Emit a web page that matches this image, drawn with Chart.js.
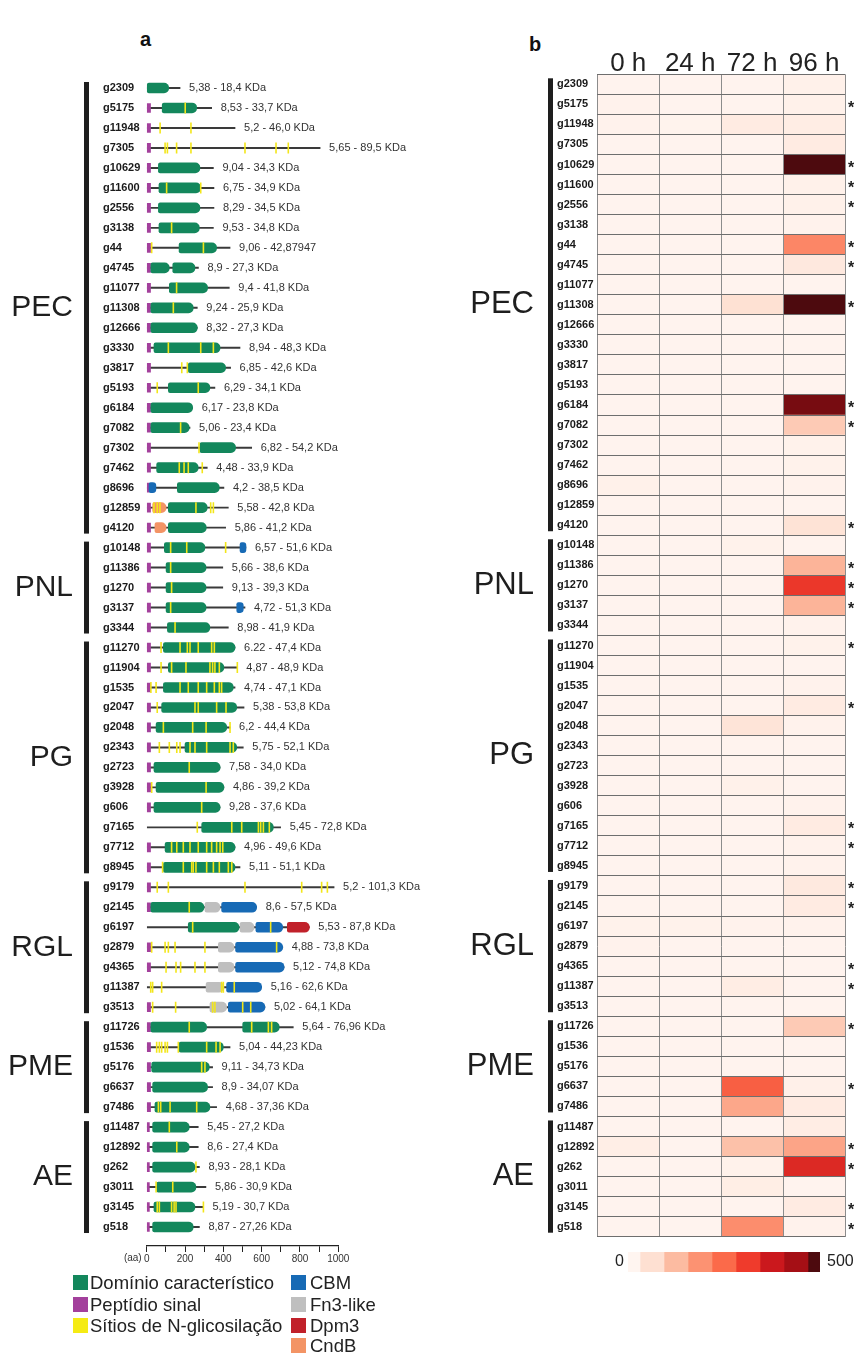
<!DOCTYPE html>
<html>
<head>
<meta charset="utf-8">
<script src="https://cdn.jsdelivr.net/npm/chart.js@4.4.0/dist/chart.umd.min.js"></script>
<style>
html, body { margin: 0; padding: 0; background: #fff; }
body { width: 854px; height: 1353px; position: relative; overflow: hidden; font-family: "Liberation Sans", Arial, sans-serif; }
canvas { position: absolute; }
#chartA { left: 0; top: 0; }
#chartB { left: 440px; top: 0; }
#chartC { left: 600px; top: 1240px; }
.tag { position: absolute; font-weight: bold; font-size: 20px; line-height: 20px; color: #111; }
.leg { position: absolute; height: 21px; display: flex; align-items: center; font-size: 18.5px; color: #222; white-space: nowrap; }
.leg i { display: inline-block; width: 15px; height: 15px; }
</style>
</head>
<body>
<div class="tag" style="left:140px;top:29px">a</div>
<div class="tag" style="left:529px;top:34px">b</div>
<canvas id="chartA" width="440" height="1300"></canvas>
<canvas id="chartB" width="414" height="1300"></canvas>
<canvas id="chartC" width="254" height="44"></canvas>
<div id="legend"></div>
<script>
// ---- dados ----
var genes = ['g2309','g5175','g11948','g7305','g10629','g11600','g2556','g3138','g44','g4745','g11077','g11308','g12666','g3330','g3817','g5193','g6184','g7082','g7302','g7462','g8696','g12859','g4120',
  'g10148','g11386','g1270','g3137','g3344',
  'g11270','g11904','g1535','g2047','g2048','g2343','g2723','g3928','g606','g7165','g7712','g8945',
  'g9179','g2145','g6197','g2879','g4365','g11387','g3513',
  'g11726','g1536','g5176','g6637','g7486',
  'g11487','g12892','g262','g3011','g3145','g518'];
var groupNames = ['PEC','PNL','PG','RGL','PME','AE'];
var groupSizes = [23, 5, 12, 7, 5, 6];

// comprimento da proteina (aa)
var proteinLength = [174,339,461,905,348,351,351,348,435,270,431,264,264,487,438,356,240,226,548,316,403,426,412,
  518,397,397,513,426,
  461,473,461,508,435,504,383,403,383,699,461,487,
  978,574,849,710,717,600,617,
  765,435,344,344,365,
  269,269,275,309,296,275];

var kdaLabels = ['5,38 - 18,4 KDa','8,53 - 33,7 KDa','5,2 - 46,0 KDa','5,65 - 89,5 KDa','9,04 - 34,3 KDa','6,75 - 34,9 KDa','8,29 - 34,5 KDa','9,53 - 34,8 KDa','9,06 - 42,87947','8,9 - 27,3 KDa','9,4 - 41,8 KDa','9,24 - 25,9 KDa','8,32 - 27,3 KDa','8,94 - 48,3 KDa','6,85 - 42,6 KDa','6,29 - 34,1 KDa','6,17 - 23,8 KDa','5,06 - 23,4 KDa','6,82 - 54,2 KDa','4,48 - 33,9 KDa','4,2 - 38,5 KDa','5,58 - 42,8 KDa','5,86 - 41,2 KDa',
  '6,57 - 51,6 KDa','5,66 - 38,6 KDa','9,13 - 39,3 KDa','4,72 - 51,3 KDa','8,98 - 41,9 KDa',
  '6.22 - 47,4 KDa','4,87 - 48,9 KDa','4,74 - 47,1 KDa','5,38 - 53,8 KDa','6,2 - 44,4 KDa','5,75 - 52,1 KDa','7,58 - 34,0 KDa','4,86 - 39,2 KDa','9,28 - 37,6 KDa','5,45 - 72,8 KDa','4,96 - 49,6 KDa','5,11 - 51,1 KDa',
  '5,2 - 101,3 KDa','8,6 - 57,5 KDa','5,53 - 87,8 KDa','4,88 - 73,8 KDa','5,12 - 74,8 KDa','5,16 - 62,6 KDa','5,02 - 64,1 KDa',
  '5,64 - 76,96 KDa','5,04 - 44,23 KDa','9,11 - 34,73 KDa','8,9 - 34,07 KDa','4,68 - 37,36 KDa',
  '5,45 - 27,2 KDa','8,6 - 27,4 KDa','8,93 - 28,1 KDa','5,86 - 30,9 KDa','5,19 - 30,7 KDa','8,87 - 27,26 KDa'];

// fim do peptidio sinal (0 = sem peptidio)
var signalPeptide = [0,20,20,20,20,20,20,20,20,20,20,20,20,20,20,20,20,20,20,20,12,20,20,
  20,20,20,20,20,
  20,20,20,20,20,20,20,20,20,0,20,20,
  20,20,0,20,20,0,20,
  20,20,20,20,20,
  14,14,14,14,14,14];

var charDomains = [['g2309',0,115],['g5175',81,261],['g10629',61,278],['g11600',64,282],['g2556',61,278],['g3138',64,275],
  ['g44',169,365],['g4745',22,118],['g4745',136,252],['g11077',118,318],['g11308',22,243],['g12666',22,264],['g3330',38,383],
  ['g3817',217,412],['g5193',113,330],['g6184',22,240],['g7082',22,222],['g7302',278,464],['g7462',52,269],['g8696',160,379],
  ['g12859',113,316],['g4120',113,311],
  ['g10148',92,304],['g11386',101,310],['g1270',101,310],['g3137',101,310],['g3344',108,330],
  ['g11270',87,461],['g11904',113,403],['g1535',87,452],['g2047',78,470],['g2048',49,418],['g2343',200,470],['g2723',38,383],
  ['g3928',49,403],['g606',38,383],['g7165',287,661],['g7712',96,461],['g8945',87,461],
  ['g2145',22,299],['g6197',217,482],
  ['g11726',22,313],['g11726',501,692],['g1536',169,400],['g5176',26,327],['g6637',31,318],['g7486',43,330],
  ['g11487',31,222],['g12892',31,222],['g262',31,252],['g3011',52,257],['g3145',38,252],['g518',31,243]];
var cbmDomains = [['g8696',12,48],['g10148',487,518],['g3137',470,504],['g2145',391,574],['g6197',570,710],
  ['g2879',464,710],['g4365',464,717],['g11387',417,600],['g3513',426,617]];
var fn3Domains = [['g2145',304,383],['g6197',487,560],['g2879',374,456],['g4365',374,456],['g11387',310,403],['g3513',330,417]];
var dpm3Domains = [['g6197',734,849]];
var cndbDomains = [['g12859',31,101],['g4120',43,101]];

// sitios de N-glicosilacao (posicao aa)
var glycoSites = [[],[201],[70,231],[96,108,156,231,513,675,739],[],[104,282],[],[130],[26,296],[],[156],[139],[],
  [113,282,348],[183,212],[55,269],[],[177],[273],[170,195,217,290],[],[38,55,69,257,334,348],[],
  [125,209,412],[125],[130],[125],[148],
  [75,174,212,226,269,339,353],[75,130,205,330,344,356,379,473],[22,49,174,217,269,313,353,379,391],
  [55,252,269,365,414],[87,240,310,435],[66,118,157,174,226,252,313,435,452],[222],[26,310],[287],
  [264,444,496,583,595,609,640],[130,157,191,226,269,313,339,365,383,397],[83,191,235,243,257,313,348,379,426,444],
  [55,113,513,809,913,943],[222],[240,647],[26,96,113,148,304,678],[101,153,177,252,304],[21,31,78,391,400,457],[31,151,344,356,501,543],
  [222,548,635,652],[52,66,78,96,108,165,313,362,383],[287,304],[],[61,73,122,261],
  [118],[157],[257],[49,136],[55,66,130,143,153,296],[]];

// heatmap
var timeLabels = ['0 h','24 h','72 h','96 h'];
var h0  = [5,8,8,5,5,5,5,5,5,5,5,5,5,5,5,5,5,5,5,5,12,5,5, 5,5,5,5,5, 5,5,5,5,5,5,5,5,5,5,5,5, 5,5,10,8,5,5,5, 5,5,5,5,5, 5,20,5,5,5,5];
var h24 = [5,5,6,5,5,5,5,5,5,5,5,5,5,5,5,5,5,5,5,5,5,5,5, 5,5,5,5,5, 5,5,5,5,5,5,5,5,5,5,5,5, 5,5,10,5,5,5,5, 5,5,5,5,5, 5,5,5,5,5,5];
var h72 = [5,5,30,5,5,5,5,5,5,5,5,60,5,5,5,5,5,5,5,5,5,5,5, 10,5,5,5,5, 5,5,5,5,50,5,5,12,5,5,5,5, 5,5,8,5,5,25,5, 5,5,5,265,155, 5,115,10,22,5,195];
var h96 = [12,12,25,30,500,12,12,8,206,38,5,500,5,5,5,5,470,100,10,10,8,5,55, 5,135,320,135,8, 10,5,8,30,8,5,5,5,8,30,8,8, 35,30,8,5,5,5,5, 100,5,5,15,30, 25,160,345,5,30,8];
var starred = ['g5175','g10629','g11600','g2556','g44','g4745','g11308','g6184','g7082','g4120','g11386','g1270','g3137',
  'g11270','g2047','g7165','g7712','g9179','g2145','g4365','g11387','g11726','g6637','g12892','g262','g3145','g518'];

var reds = ['#fff5f0','#fee0d2','#fcbba1','#fc9272','#fb6a4a','#ef3b2c','#cb181d','#a50f15','#4d0a0e'];
var colorbarMax = 500;

var legendItems = [['Domínio característico','#13875c'],['Peptídio sinal','#a3409c'],['Sítios de N-glicosilação','#f5eb14'],
  ['CBM','#176ab5'],['Fn3-like','#bfbfbf'],['Dpm3','#c1212a'],['CndB','#f39465']];

// ---- helpers ----
Chart.defaults.font.family = '"Liberation Sans", Arial, sans-serif';

function hexRgb(h) { return [parseInt(h.substr(1,2),16), parseInt(h.substr(3,2),16), parseInt(h.substr(5,2),16)]; }
function heatColor(v) {
  var t = Math.max(0, Math.min(1, v / colorbarMax)) * (reds.length - 1);
  var k = Math.min(reds.length - 2, Math.floor(t));
  var f = t - k, a = hexRgb(reds[k]), b = hexRgb(reds[k + 1]);
  return 'rgb(' + a.map(function (c, i) { return Math.round(c + (b[i] - c) * f); }).join(',') + ')';
}
function segs(list) {
  return list.map(function (s) { return { x: [s[1], s[2]], y: genes.indexOf(s[0]) }; });
}
function domainSet(label, list, color, order) {
  return { label: label, data: segs(list), backgroundColor: color, barThickness: 10, grouped: false,
    borderSkipped: false, borderRadius: { topLeft: 2, bottomLeft: 2, topRight: 6, bottomRight: 6 }, order: order };
}

// ---- painel a ----
var panelAText = {
  id: 'panelAText',
  afterDraw: function (chart) {
    var ctx = chart.ctx, x = chart.scales.x, y = chart.scales.y;
    ctx.save();
    ctx.font = '11px "Liberation Sans", Arial';
    ctx.fillStyle = '#333';
    ctx.textBaseline = 'middle';
    ctx.textAlign = 'left';
    kdaLabels.forEach(function (t, i) {
      ctx.fillText(t, x.getPixelForValue(proteinLength[i]) + 9, y.getPixelForValue(i));
    });
    var start = 0;
    groupNames.forEach(function (name, k) {
      var end = start + groupSizes[k] - 1;
      var top = y.getPixelForValue(start - 0.3), bot = y.getPixelForValue(end + 0.3);
      ctx.fillStyle = '#1e1e1e';
      ctx.fillRect(84, top, 5, bot - top);
      ctx.font = '30px "Liberation Sans", Arial';
      ctx.textAlign = 'right';
      ctx.fillText(name, 73, (top + bot) / 2);
      start = end + 1;
    });
    ctx.font = '10px "Liberation Sans", Arial';
    ctx.fillStyle = '#333';
    ctx.textAlign = 'right';
    ctx.fillText('(aa)', x.getPixelForValue(0) - 5, chart.chartArea.bottom + 12);
    ctx.restore();
  }
};

new Chart(document.getElementById('chartA'), {
  type: 'bar',
  data: {
    datasets: [
      { type: 'scatter', label: 'glico', order: 0,
        data: glycoSites.reduce(function (acc, s, i) { return acc.concat(s.map(function (p) { return { x: p, y: i }; })); }, []),
        pointStyle: 'line', rotation: 90, radius: 5.5, borderColor: '#f3e61a', borderWidth: 1.6 },
      domainSet('Domínio característico', charDomains, '#13875c', 1),
      domainSet('CBM', cbmDomains, '#176ab5', 1),
      domainSet('Fn3-like', fn3Domains, '#bfbfbf', 2),
      domainSet('Dpm3', dpm3Domains, '#c1212a', 1),
      domainSet('CndB', cndbDomains, '#f39465', 1),
      { label: 'Peptídio sinal', order: 3, grouped: false, barThickness: 9, backgroundColor: '#a3409c', borderSkipped: false,
        data: signalPeptide.map(function (e, i) { return e ? { x: [0, e], y: i } : null; }).filter(Boolean) },
      { label: 'proteina', order: 5, grouped: false, barThickness: 1.3, backgroundColor: '#3a3a3a',
        data: proteinLength.map(function (L, i) { return { x: [0, L], y: i }; }) }
    ]
  },
  options: {
    responsive: false, animation: false, indexAxis: 'y',
    layout: { padding: { left: 103, right: 101.7, top: 78, bottom: 34 } },
    plugins: { legend: { display: false }, tooltip: { enabled: false } },
    scales: {
      x: { type: 'linear', min: 0, max: 1000, position: 'bottom',
        ticks: { stepSize: 100, autoSkip: false, maxRotation: 0, padding: 1, color: '#333', font: { size: 10 },
          callback: function (v) { return v % 200 === 0 ? v : ''; } },
        grid: { drawOnChartArea: false, drawTicks: true, tickLength: 6, color: '#222', lineWidth: 1 },
        border: { display: true, color: '#222', width: 1.3 },
        afterFit: function (s) { s.height = 20; } },
      y: { type: 'linear', reverse: true, offset: false, bounds: 'data', min: -0.5, max: 57.95,
        ticks: { autoSkip: false, crossAlign: 'far', padding: 0, color: '#1a1a1a',
          font: { size: 11, weight: 'bold' },
          callback: function (v) { return genes[v]; } },
        afterBuildTicks: function (s) { s.ticks = genes.map(function (g, i) { return { value: i }; }); },
        grid: { display: false }, border: { display: false },
        afterFit: function (s) { s.width = 43.7; } }
    }
  },
  plugins: [panelAText]
});

// ---- painel b ----
var panelBText = {
  id: 'panelBText',
  afterDraw: function (chart) {
    var ctx = chart.ctx, y = chart.scales.y, area = chart.chartArea;
    ctx.save();
    ctx.textBaseline = 'middle';
    var start = 0;
    groupNames.forEach(function (name, k) {
      var end = start + groupSizes[k] - 1;
      var top = y.getPixelForValue(start - 0.3), bot = y.getPixelForValue(end + 0.3);
      ctx.fillStyle = '#1e1e1e';
      ctx.fillRect(108, top, 5, bot - top);
      ctx.font = '31px "Liberation Sans", Arial';
      ctx.textAlign = 'right';
      ctx.fillText(name, 94, (top + bot) / 2);
      start = end + 1;
    });
    ctx.font = 'bold 16px "Liberation Sans", Arial';
    ctx.textAlign = 'left';
    starred.forEach(function (g) {
      ctx.fillText('*', area.right + 3, y.getPixelForValue(genes.indexOf(g)) + 4);
    });
    ctx.restore();
  }
};

var heatCols = [h0, h24, h72, h96];
new Chart(document.getElementById('chartB'), {
  type: 'bar',
  data: {
    labels: genes,
    datasets: heatCols.map(function (vals, k) {
      return { label: timeLabels[k], data: genes.map(function () { return 1; }),
        backgroundColor: vals.map(heatColor), barPercentage: 1, categoryPercentage: 1, borderWidth: 0 };
    })
  },
  options: {
    responsive: false, animation: false, indexAxis: 'y',
    layout: { padding: { left: 117, right: 9, top: 34.3, bottom: 63.3 } },
    plugins: { legend: { display: false }, tooltip: { enabled: false } },
    scales: {
      x: { type: 'linear', stacked: true, min: 0, max: 4, position: 'bottom',
        ticks: { display: false, stepSize: 1 },
        grid: { color: '#8c8c8c', lineWidth: 1, drawTicks: false, z: 1 }, border: { display: false },
        afterFit: function (s) { s.height = 0; } },
      t: { type: 'category', axis: 'x', labels: timeLabels, position: 'top', offset: true,
        grid: { display: false, drawTicks: false }, border: { display: false },
        ticks: { color: '#222', font: { size: 26 }, padding: -5, maxRotation: 0 },
        afterFit: function (s) { s.height = 40; } },
      y: { stacked: true,
        ticks: { crossAlign: 'far', padding: 0, autoSkip: false, color: '#1a1a1a', font: { size: 11, weight: 'bold' } },
        grid: { color: '#6e6e6e', lineWidth: 1, drawTicks: false, offset: true, z: 1 }, border: { display: false },
        afterFit: function (s) { s.width = 40.3; } }
    }
  },
  plugins: [panelBText]
});

// ---- barra de cores ----
var stepVal = colorbarMax / (reds.length - 1);
var cbText = {
  id: 'cbText',
  afterDraw: function (chart) {
    var ctx = chart.ctx, x = chart.scales.x, area = chart.chartArea;
    var cy = (area.top + area.bottom) / 2;
    ctx.save();
    ctx.font = '16px "Liberation Sans", Arial';
    ctx.fillStyle = '#222';
    ctx.textBaseline = 'middle';
    ctx.textAlign = 'right';
    ctx.fillText('0', x.getPixelForValue(0) - 4, cy);
    ctx.textAlign = 'left';
    ctx.fillText(String(colorbarMax), x.getPixelForValue(colorbarMax) + 7, cy);
    ctx.restore();
  }
};
new Chart(document.getElementById('chartC'), {
  type: 'bar',
  data: {
    labels: [''],
    datasets: reds.map(function (c, k) {
      var w = (k === 0 || k === reds.length - 1) ? stepVal / 2 : stepVal;
      return { data: [w], backgroundColor: c, barPercentage: 1, categoryPercentage: 1, borderWidth: 0 };
    })
  },
  options: {
    responsive: false, animation: false, indexAxis: 'y',
    layout: { padding: { left: 28, right: 34, top: 12, bottom: 12 } },
    plugins: { legend: { display: false }, tooltip: { enabled: false } },
    scales: { x: { stacked: true, min: 0, max: colorbarMax, display: false }, y: { stacked: true, display: false } }
  },
  plugins: [cbText]
});

// ---- legenda ----
var legendPos = [[73,1272],[73,1294],[73,1315],[291,1272],[291,1294],[291,1315],[291,1335]];
var legHtml = '';
legendItems.forEach(function (it, i) {
  var gap = legendPos[i][0] < 200 ? 2 : 4;
  legHtml += '<div class="leg" style="left:' + legendPos[i][0] + 'px;top:' + legendPos[i][1] + 'px">' +
    '<i style="background:' + it[1] + ';margin-right:' + gap + 'px"></i>' + it[0] + '</div>';
});
document.getElementById('legend').innerHTML = legHtml;
</script>
</body>
</html>
